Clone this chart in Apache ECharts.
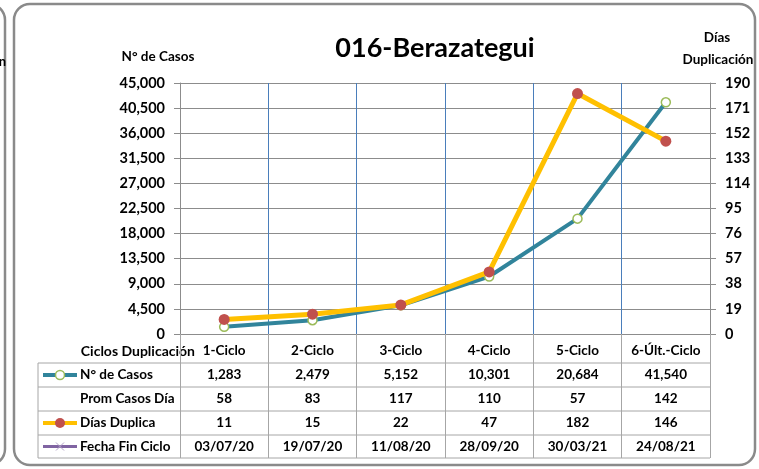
<!DOCTYPE html>
<html>
<head>
<meta charset="utf-8">
<script src="https://cdn.jsdelivr.net/npm/echarts@6/dist/echarts.min.js"></script>
<style>
  html, body { margin: 0; padding: 0; background: #fff; }
  #chart { width: 759px; height: 469px; }
</style>
</head>
<body>
<div id="chart"></div>
<script>
// data
const categories = ['1-Ciclo', '2-Ciclo', '3-Ciclo', '4-Ciclo', '5-Ciclo', '6-Últ.-Ciclo'];
const casos = [1283, 2479, 5152, 10301, 20684, 41540];
const promCasosDia = [58, 83, 117, 110, 57, 142];
const diasDuplica = [11, 15, 22, 47, 182, 146];
const fechaFinCiclo = ['03/07/20', '19/07/20', '11/08/20', '28/09/20', '30/03/21', '24/08/21'];

const FONT = 'Lato';
const fmt = v => v.toLocaleString('en-US');

// table rows below the plot: label, values, y centre of the row
const gridBottomY = 334;
const tableRows = [
  { name: 'N° de Casos', values: casos.map(fmt), y: 375 },
  { name: 'Prom Casos Día', values: promCasosDia.map(String), y: 399 },
  { name: 'Días Duplica', values: diasDuplica.map(String), y: 423 },
  { name: 'Fecha Fin Ciclo', values: fechaFinCiclo, y: 446.5 }
];
const tableLinesY = [363, 387, 411, 435, 458];

const chart = echarts.init(document.getElementById('chart'));

const labelStyle = { color: '#000', fontFamily: FONT, fontWeight: 'bold', fontSize: 13.5 };

const tableAxes = tableRows.map(r => ({
  type: 'category',
  gridIndex: 0,
  position: 'bottom',
  offset: r.y - gridBottomY,
  data: r.values,
  axisLine: { show: false },
  axisTick: { show: false },
  splitLine: { show: false },
  axisLabel: Object.assign({ interval: 0, margin: 0, verticalAlign: 'middle' }, labelStyle)
}));

const graphics = [];
// chart frames
graphics.push({ type: 'rect', shape: { x: 14, y: 4, width: 741, height: 461, r: 16 },
  style: { fill: null, stroke: '#8a8a8a', lineWidth: 2.5 }, z: 0 });
graphics.push({ type: 'rect', shape: { x: -120, y: 4, width: 125, height: 461, r: 16 },
  style: { fill: null, stroke: '#8a8a8a', lineWidth: 2.5 }, z: 0 });
graphics.push({ type: 'text', x: 6, y: 62, style: { text: 'Duplicación', align: 'right', verticalAlign: 'middle',
  font: 'bold 13px ' + FONT, fill: '#000' } });
// axis titles
graphics.push({ type: 'text', x: 158, y: 57, style: { text: 'N° de Casos', align: 'center', verticalAlign: 'middle',
  font: 'bold 13.5px ' + FONT, fill: '#000' } });
graphics.push({ type: 'text', x: 717, y: 38, style: { text: 'Días', align: 'center', verticalAlign: 'middle',
  font: 'bold 13.5px ' + FONT, fill: '#000' } });
graphics.push({ type: 'text', x: 718, y: 60, style: { text: 'Duplicación', align: 'center', verticalAlign: 'middle',
  font: 'bold 13.5px ' + FONT, fill: '#000' } });
graphics.push({ type: 'text', x: 195, y: 351, style: { text: 'Ciclos Duplicación', align: 'right', verticalAlign: 'middle',
  font: 'bold 14px ' + FONT, fill: '#000' } });
// table borders
tableLinesY.forEach(y => graphics.push({ type: 'line', shape: { x1: 38, y1: y, x2: 710, y2: y },
  style: { stroke: '#a6a6a6', lineWidth: 1 } }));
graphics.push({ type: 'line', shape: { x1: 38, y1: 363, x2: 38, y2: 458 }, style: { stroke: '#a6a6a6', lineWidth: 1 } });
// row labels
tableRows.forEach(r => graphics.push({ type: 'text', x: 80, y: r.y, style: { text: r.name, align: 'left',
  verticalAlign: 'middle', font: 'bold 13.5px ' + FONT, fill: '#000' } }));
// legend keys
graphics.push({ type: 'line', shape: { x1: 43, y1: 375, x2: 77, y2: 375 }, style: { stroke: '#31849b', lineWidth: 4 } });
graphics.push({ type: 'circle', shape: { cx: 60, cy: 375, r: 4.5 }, style: { fill: '#fff', stroke: '#9bbb59', lineWidth: 1.5 } });
graphics.push({ type: 'line', shape: { x1: 43, y1: 423, x2: 77, y2: 423 }, style: { stroke: '#ffc000', lineWidth: 4 } });
graphics.push({ type: 'circle', shape: { cx: 60, cy: 423, r: 5 }, style: { fill: '#c0504d' } });
graphics.push({ type: 'line', shape: { x1: 43, y1: 446.5, x2: 77, y2: 446.5 }, style: { stroke: '#8064a2', lineWidth: 3 } });
graphics.push({ type: 'line', shape: { x1: 56, y1: 442.5, x2: 64, y2: 450.5 }, style: { stroke: '#b3a2c7', lineWidth: 1 } });
graphics.push({ type: 'line', shape: { x1: 56, y1: 450.5, x2: 64, y2: 442.5 }, style: { stroke: '#b3a2c7', lineWidth: 1 } });

chart.setOption({
  backgroundColor: '#fff',
  animation: false,
  textStyle: { fontFamily: FONT },
  title: {
    text: '016-Berazategui',
    left: 430,
    textAlign: 'center',
    top: 30,
    textStyle: { fontFamily: FONT, fontWeight: 'bold', fontSize: 27, color: '#000' }
  },
  grid: { left: 180, right: 49, top: 83, bottom: 135, containLabel: false },
  xAxis: [{
    type: 'category',
    data: categories,
    boundaryGap: true,
    axisLine: { show: false },
    axisTick: { show: true, interval: 0, length: 124, lineStyle: { color: '#a6a6a6', width: 1 } },
    splitLine: { show: true, interval: 0, lineStyle: { color: '#4a7ebb', width: 1 } },
    axisLabel: Object.assign({ interval: 0, margin: 17, verticalAlign: 'middle' }, labelStyle)
  }].concat(tableAxes),
  yAxis: [{
    type: 'value',
    min: 0, max: 45000, interval: 4500,
    axisLine: { show: true, lineStyle: { color: '#8c8c8c', width: 1 } },
    axisTick: { show: true, length: 6, lineStyle: { color: '#8c8c8c' } },
    splitLine: { show: true, lineStyle: { color: '#8c8c8c', width: 1 } },
    axisLabel: Object.assign({ margin: 15, formatter: v => fmt(v) }, labelStyle, { fontSize: 14.5 })
  }, {
    type: 'value',
    min: 0, max: 190, interval: 19,
    position: 'right',
    axisLine: { show: true, lineStyle: { color: '#8c8c8c', width: 1 } },
    axisTick: { show: true, length: 6, lineStyle: { color: '#8c8c8c' } },
    splitLine: { show: false },
    axisLabel: Object.assign({ margin: 15 }, labelStyle, { fontSize: 14.5 })
  }],
  series: [{
    name: 'N° de Casos',
    type: 'line',
    xAxisIndex: 0, yAxisIndex: 0,
    data: casos,
    symbol: 'circle', symbolSize: 9,
    lineStyle: { color: '#31849b', width: 4 },
    itemStyle: { color: '#fff', borderColor: '#9bbb59', borderWidth: 1.5 },
    z: 3
  }, {
    name: 'Días Duplica',
    type: 'line',
    xAxisIndex: 0, yAxisIndex: 1,
    data: diasDuplica,
    symbol: 'circle', symbolSize: 11,
    lineStyle: { color: '#ffc000', width: 5 },
    itemStyle: { color: '#c0504d', borderWidth: 0 },
    z: 4
  }],
  graphic: graphics
});
</script>
</body>
</html>
